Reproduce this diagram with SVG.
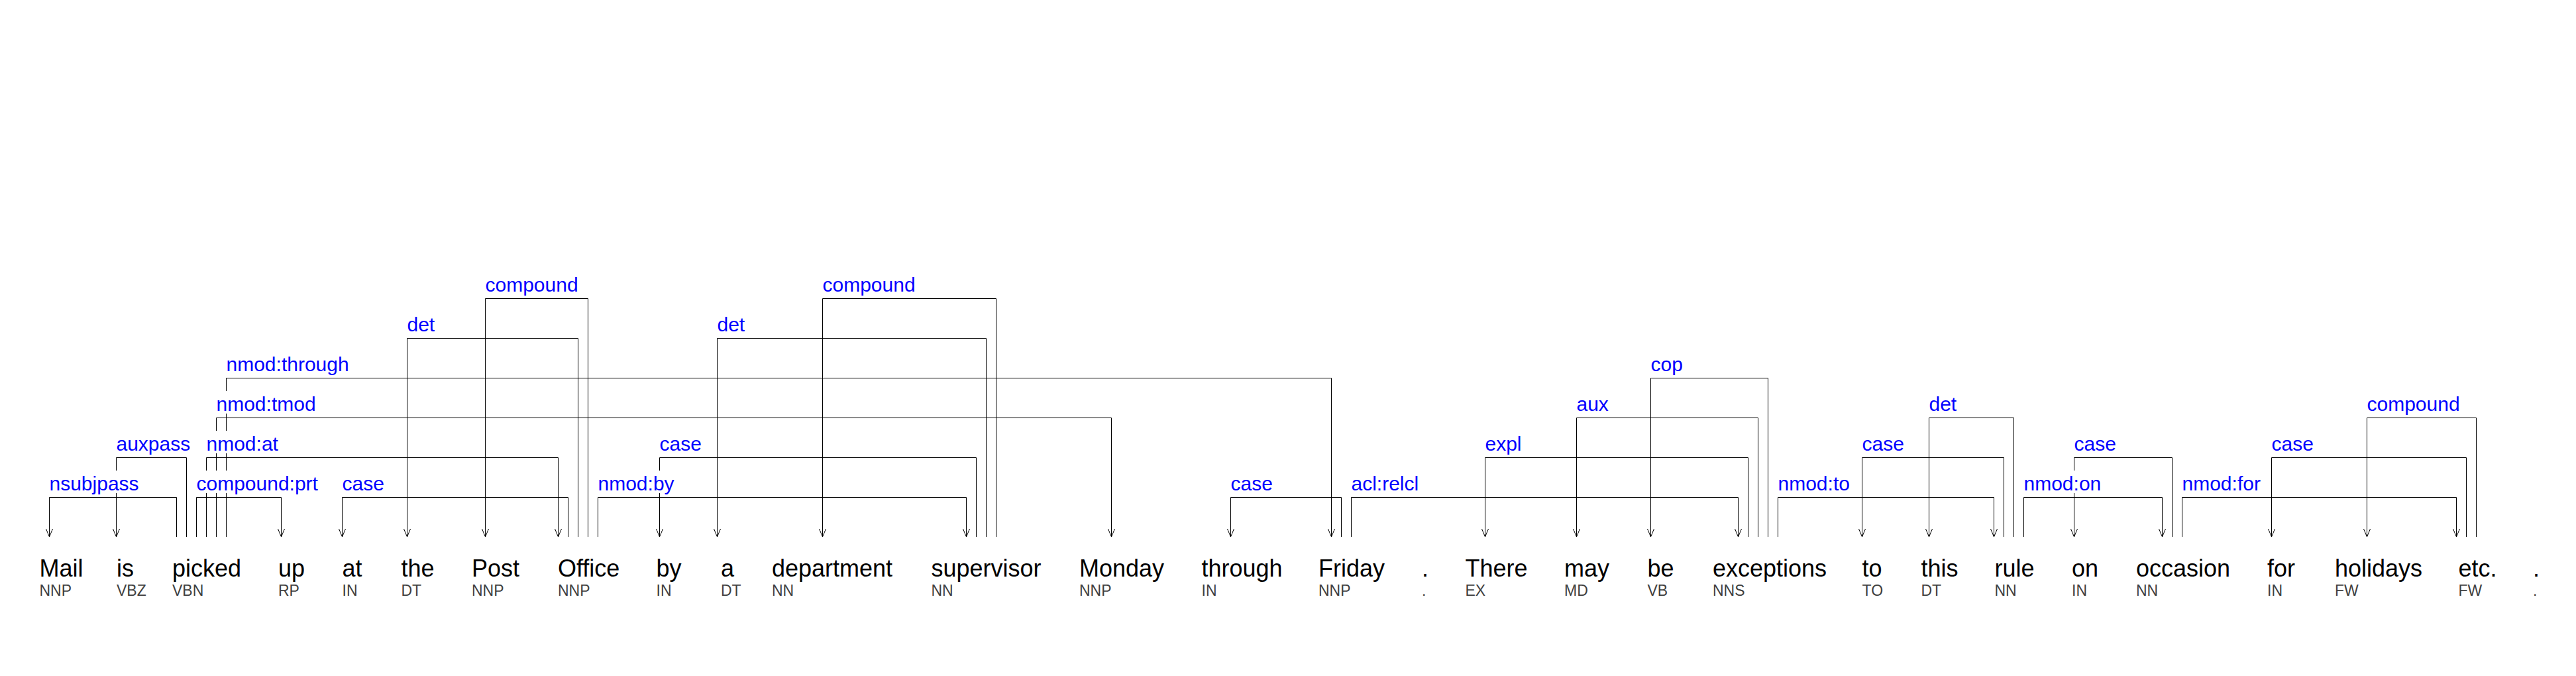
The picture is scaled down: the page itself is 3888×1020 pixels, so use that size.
<svg xmlns="http://www.w3.org/2000/svg" width="3888" height="1020" viewBox="0 0 3888 1020">
<style>
.bg{fill:#fff}
.e path{fill:none;stroke:#000;stroke-width:1;marker-end:url(#ah)}
.lb rect{fill:#fff}
.lb text{font-family:"Liberation Sans",Arial,sans-serif;font-size:30px;fill:#0000ff}
.w{font-family:"Liberation Sans",Arial,sans-serif;font-size:36px;fill:#000}
.p{font-family:"Liberation Sans",Arial,sans-serif;font-size:23px;fill:#404040}
</style>
<defs>
<marker id="ah" markerUnits="userSpaceOnUse" orient="auto" overflow="visible" refX="0" refY="0" markerWidth="1" markerHeight="1"><path d="M-12,-5 L0,0 L-12,5" fill="none" stroke="#000" stroke-width="1"/></marker>
</defs>
<rect class="bg" x="0" y="0" width="3888" height="1020"/>
<g id="connectors" class="e">
<path d="M266.5,810V750.5H74.5V810"/>
<path d="M281.5,810V690.5H175.5V810"/>
<path d="M296.5,810V750.5H424.5V810"/>
<path d="M311.5,810V690.5H842.5V810"/>
<path d="M326.5,810V630.5H1677.5V810"/>
<path d="M341.5,810V570.5H2009.5V810"/>
<path d="M857.5,810V750.5H516.5V810"/>
<path d="M872.5,810V510.5H614.5V810"/>
<path d="M887.5,810V450.5H732.5V810"/>
<path d="M902.5,810V750.5H1458.5V810"/>
<path d="M1473.5,810V690.5H995.5V810"/>
<path d="M1488.5,810V510.5H1082.5V810"/>
<path d="M1503.5,810V450.5H1241.5V810"/>
<path d="M2024.5,810V750.5H1857.5V810"/>
<path d="M2039.5,810V750.5H2623.5V810"/>
<path d="M2638.5,810V690.5H2241.5V810"/>
<path d="M2653.5,810V630.5H2379.5V810"/>
<path d="M2668.5,810V570.5H2491.5V810"/>
<path d="M2683.5,810V750.5H3009.5V810"/>
<path d="M3024.5,810V690.5H2810.5V810"/>
<path d="M3039.5,810V630.5H2911.5V810"/>
<path d="M3054.5,810V750.5H3263.5V810"/>
<path d="M3278.5,810V690.5H3130.5V810"/>
<path d="M3293.5,810V750.5H3707.5V810"/>
<path d="M3722.5,810V690.5H3428.5V810"/>
<path d="M3737.5,810V630.5H3572.5V810"/>
</g>
<g id="edge-labels" class="lb">
<rect x="74" y="710" width="136" height="34"/><text x="74.5" y="740">nsubjpass</text>
<rect x="175" y="650" width="113" height="34"/><text x="175.5" y="680">auxpass</text>
<rect x="296" y="710" width="184" height="34"/><text x="296.5" y="740">compound:prt</text>
<rect x="311" y="650" width="109" height="34"/><text x="311.5" y="680">nmod:at</text>
<rect x="326" y="590" width="151" height="34"/><text x="326.5" y="620">nmod:tmod</text>
<rect x="341" y="530" width="186" height="34"/><text x="341.5" y="560">nmod:through</text>
<rect x="516" y="710" width="64" height="34"/><text x="516.5" y="740">case</text>
<rect x="614" y="470" width="42" height="34"/><text x="614.5" y="500">det</text>
<rect x="732" y="410" width="141" height="34"/><text x="732.5" y="440">compound</text>
<rect x="902" y="710" width="116" height="34"/><text x="902.5" y="740">nmod:by</text>
<rect x="995" y="650" width="64" height="34"/><text x="995.5" y="680">case</text>
<rect x="1082" y="470" width="42" height="34"/><text x="1082.5" y="500">det</text>
<rect x="1241" y="410" width="141" height="34"/><text x="1241.5" y="440">compound</text>
<rect x="1857" y="710" width="64" height="34"/><text x="1857.5" y="740">case</text>
<rect x="2039" y="710" width="102" height="34"/><text x="2039.5" y="740">acl:relcl</text>
<rect x="2241" y="650" width="56" height="34"/><text x="2241.5" y="680">expl</text>
<rect x="2379" y="590" width="49" height="34"/><text x="2379.5" y="620">aux</text>
<rect x="2491" y="530" width="49" height="34"/><text x="2491.5" y="560">cop</text>
<rect x="2683" y="710" width="109" height="34"/><text x="2683.5" y="740">nmod:to</text>
<rect x="2810" y="650" width="64" height="34"/><text x="2810.5" y="680">case</text>
<rect x="2911" y="590" width="42" height="34"/><text x="2911.5" y="620">det</text>
<rect x="3054" y="710" width="117" height="34"/><text x="3054.5" y="740">nmod:on</text>
<rect x="3130" y="650" width="64" height="34"/><text x="3130.5" y="680">case</text>
<rect x="3293" y="710" width="119" height="34"/><text x="3293.5" y="740">nmod:for</text>
<rect x="3428" y="650" width="64" height="34"/><text x="3428.5" y="680">case</text>
<rect x="3572" y="590" width="141" height="34"/><text x="3572.5" y="620">compound</text>
</g>
<g id="w1"><text class="w" x="59.5" y="870">Mail</text><text class="p" x="59.5" y="899">NNP</text></g>
<g id="w2"><text class="w" x="176" y="870">is</text><text class="p" x="176" y="899">VBZ</text></g>
<g id="w3"><text class="w" x="260" y="870">picked</text><text class="p" x="260" y="899">VBN</text></g>
<g id="w4"><text class="w" x="420" y="870">up</text><text class="p" x="420" y="899">RP</text></g>
<g id="w5"><text class="w" x="516.5" y="870">at</text><text class="p" x="516.5" y="899">IN</text></g>
<g id="w6"><text class="w" x="605.5" y="870">the</text><text class="p" x="605.5" y="899">DT</text></g>
<g id="w7"><text class="w" x="712" y="870">Post</text><text class="p" x="712" y="899">NNP</text></g>
<g id="w8"><text class="w" x="842" y="870">Office</text><text class="p" x="842" y="899">NNP</text></g>
<g id="w9"><text class="w" x="990.5" y="870">by</text><text class="p" x="990.5" y="899">IN</text></g>
<g id="w10"><text class="w" x="1088" y="870">a</text><text class="p" x="1088" y="899">DT</text></g>
<g id="w11"><text class="w" x="1165" y="870">department</text><text class="p" x="1165" y="899">NN</text></g>
<g id="w12"><text class="w" x="1405.5" y="870">supervisor</text><text class="p" x="1405.5" y="899">NN</text></g>
<g id="w13"><text class="w" x="1629" y="870">Monday</text><text class="p" x="1629" y="899">NNP</text></g>
<g id="w14"><text class="w" x="1813.5" y="870">through</text><text class="p" x="1813.5" y="899">IN</text></g>
<g id="w15"><text class="w" x="1990" y="870">Friday</text><text class="p" x="1990" y="899">NNP</text></g>
<g id="w16"><text class="w" x="2146" y="870">.</text><text class="p" x="2146" y="899">.</text></g>
<g id="w17"><text class="w" x="2211.5" y="870">There</text><text class="p" x="2211.5" y="899">EX</text></g>
<g id="w18"><text class="w" x="2361" y="870">may</text><text class="p" x="2361" y="899">MD</text></g>
<g id="w19"><text class="w" x="2486.5" y="870">be</text><text class="p" x="2486.5" y="899">VB</text></g>
<g id="w20"><text class="w" x="2585" y="870">exceptions</text><text class="p" x="2585" y="899">NNS</text></g>
<g id="w21"><text class="w" x="2810.5" y="870">to</text><text class="p" x="2810.5" y="899">TO</text></g>
<g id="w22"><text class="w" x="2899.5" y="870">this</text><text class="p" x="2899.5" y="899">DT</text></g>
<g id="w23"><text class="w" x="3010.5" y="870">rule</text><text class="p" x="3010.5" y="899">NN</text></g>
<g id="w24"><text class="w" x="3127" y="870">on</text><text class="p" x="3127" y="899">IN</text></g>
<g id="w25"><text class="w" x="3224" y="870">occasion</text><text class="p" x="3224" y="899">NN</text></g>
<g id="w26"><text class="w" x="3422" y="870">for</text><text class="p" x="3422" y="899">IN</text></g>
<g id="w27"><text class="w" x="3524" y="870">holidays</text><text class="p" x="3524" y="899">FW</text></g>
<g id="w28"><text class="w" x="3710.5" y="870">etc.</text><text class="p" x="3710.5" y="899">FW</text></g>
<g id="w29"><text class="w" x="3823" y="870">.</text><text class="p" x="3823" y="899">.</text></g>
</svg>
